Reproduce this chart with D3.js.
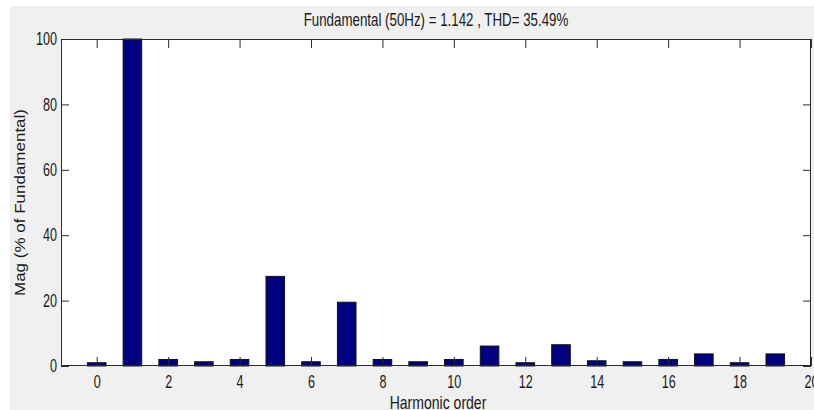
<!DOCTYPE html>
<html>
<head>
<meta charset="utf-8">
<script src="https://cdn.jsdelivr.net/npm/d3@7"></script>
<style>
  html, body { margin: 0; padding: 0; background: #ffffff; }
  svg { display: block; }
  text { font-family: "Liberation Sans", Arial, Helvetica, sans-serif; fill: #1a1a1a; }
</style>
</head>
<body>
<script>
// Harmonic spectrum of the measured signal (magnitude as % of fundamental)
const harmonicOrders = [0, 1, 2, 3, 4, 5, 6, 7, 8, 9, 10, 11, 12, 13, 14, 15, 16, 17, 18, 19];
const magnitudes = [1.0, 100, 2.0, 1.3, 2.0, 27.4, 1.3, 19.5, 2.0, 1.3, 2.0, 6.1, 1.0, 6.5, 1.6, 1.3, 2.0, 3.7, 1.0, 3.7];
const xTickValues = [0, 2, 4, 6, 8, 10, 12, 14, 16, 18, 20];
const yTickValues = [0, 20, 40, 60, 80, 100];
const titleText = "Fundamental (50Hz) = 1.142 , THD= 35.49%";
const xLabelText = "Harmonic order";
const yLabelText = "Mag (% of Fundamental)";

const W = 814, H = 410;
const plot = { left: 61, right: 811, top: 39, bottom: 366 };
const barWidth = 0.52;          // in harmonic-order units
const narrow = 0.70;            // horizontal squeeze of the figure text

const svg = d3.select("body").append("svg").attr("width", W).attr("height", H);

// figure background
svg.append("rect").attr("x", 10).attr("y", 6).attr("width", W - 10).attr("height", H - 6)
  .attr("fill", "#f0f0f0");

const x = d3.scaleLinear().domain([-1, 20]).range([plot.left, plot.right]);
const y = d3.scaleLinear().domain([0, 100]).range([plot.bottom, plot.top]);

// axes background
svg.append("rect")
  .attr("x", plot.left).attr("y", plot.top)
  .attr("width", plot.right - plot.left).attr("height", plot.bottom - plot.top)
  .attr("fill", "#ffffff");

// bars
svg.append("g").selectAll("rect")
  .data(harmonicOrders.map((h, i) => ({ h, v: magnitudes[i] })))
  .join("rect")
  .attr("x", d => x(d.h - barWidth / 2))
  .attr("width", d => x(d.h + barWidth / 2) - x(d.h - barWidth / 2))
  .attr("y", d => y(d.v))
  .attr("height", d => y(0) - y(d.v))
  .attr("fill", "#000080")
  .attr("stroke", "#111111")
  .attr("stroke-width", 1);

// axes with inward ticks on all four sides
const axisColor = "#2b2b2b";
function styleAxis(g) {
  g.select(".domain").remove();
  g.selectAll(".tick line").attr("stroke", axisColor).attr("stroke-width", 1);
  g.selectAll(".tick text").attr("font-size", 18).attr("fill", "#1a1a1a")
    .attr("font-family", "Liberation Sans, Arial, sans-serif");
}

const gx = svg.append("g").attr("transform", `translate(0,${plot.bottom})`)
  .call(d3.axisBottom(x).tickValues(xTickValues).tickFormat(d3.format("d"))
    .tickSizeInner(-9).tickSizeOuter(0).tickPadding(9))
  .call(styleAxis);
gx.selectAll(".tick text").attr("transform", `scale(${narrow},1)`);

svg.append("g").attr("transform", `translate(0,${plot.top})`)
  .call(d3.axisTop(x).tickValues(xTickValues).tickFormat("")
    .tickSizeInner(-9).tickSizeOuter(0))
  .call(styleAxis);

const gy = svg.append("g").attr("transform", `translate(${plot.left},0)`)
  .call(d3.axisLeft(y).tickValues(yTickValues).tickFormat(d3.format("d"))
    .tickSizeInner(-8).tickSizeOuter(0).tickPadding(4))
  .call(styleAxis);
gy.selectAll(".tick text")
  .attr("x", -4 / narrow)
  .attr("transform", `scale(${narrow},1)`);

svg.append("g").attr("transform", `translate(${plot.right},0)`)
  .call(d3.axisRight(y).tickValues(yTickValues).tickFormat("")
    .tickSizeInner(-8).tickSizeOuter(0))
  .call(styleAxis);

// axes frame
svg.append("rect")
  .attr("x", plot.left + 0.5).attr("y", plot.top + 0.5)
  .attr("width", plot.right - plot.left - 1).attr("height", plot.bottom - plot.top - 1)
  .attr("fill", "none").attr("stroke", axisColor).attr("stroke-width", 1);

// title
svg.append("text")
  .attr("transform", `translate(${(plot.left + plot.right) / 2},25.5) scale(0.74,1)`)
  .attr("text-anchor", "middle").attr("font-size", 18)
  .text(titleText);

// x label
svg.append("text")
  .attr("transform", `translate(${(plot.left + plot.right) / 2 + 2},409) scale(0.78,1)`)
  .attr("text-anchor", "middle").attr("font-size", 18)
  .text(xLabelText);

// y label
svg.append("text")
  .attr("transform", `translate(25,${(plot.top + plot.bottom) / 2}) rotate(-90) scale(1,0.85)`)
  .attr("text-anchor", "middle").attr("font-size", 17)
  .text(yLabelText);
</script>
</body>
</html>
